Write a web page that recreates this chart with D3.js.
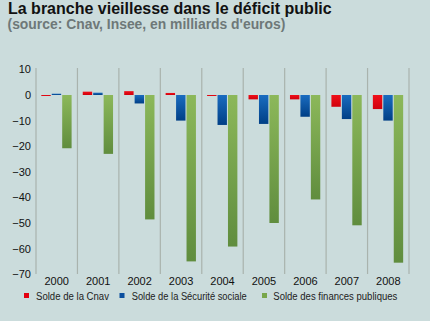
<!DOCTYPE html>
<html><head><meta charset="utf-8">
<script src="https://cdn.jsdelivr.net/npm/d3@7"></script>
<style>
html,body{margin:0;padding:0;background:#cbdcdc;}
svg{display:block;font-family:Arial,"Liberation Sans",sans-serif;}
</style></head>
<body>
<svg id="c" width="430" height="321"></svg>
<script>
const years = ["2000","2001","2002","2003","2004","2005","2006","2007","2008"];
const cnav = [-0.3, 1.3, 1.5, 0.8, -0.2, -1.7, -1.7, -4.6, -5.5];
const secu = [0.5, 0.9, -3.3, -10.0, -11.7, -11.3, -8.5, -9.4, -10.0];
const finances = [-20.8, -23.0, -48.6, -65.0, -59.2, -50.0, -40.8, -50.9, -65.5];
const yTicks = [10, 0, -10, -20, -30, -40, -50, -60, -70];
const seriesNames = ["Solde de la Cnav", "Solde de la Sécurité sociale", "Solde des finances publiques"];

const svg = d3.select("#c");
svg.append("rect").attr("width",430).attr("height",321).attr("fill","#cbdcdc");

const defs = svg.append("defs");
const grads = [
  ["gRed", "#f0101a", "#d0000c"],
  ["gBlue", "#1a6cc0", "#003f86"],
  ["gGreen", "#8cb85a", "#608d3e"]
];
grads.forEach(([id,c1,c2])=>{
  const g = defs.append("linearGradient").attr("id",id).attr("x1",0).attr("y1",0).attr("x2",0).attr("y2",1);
  g.append("stop").attr("offset","0%").attr("stop-color",c1);
  g.append("stop").attr("offset","100%").attr("stop-color",c2);
});
const solid = ["#e3000f","#0b4f9e","#78a64a"];

svg.append("text").attr("x",8).attr("y",14).attr("font-size","16px").attr("font-weight","bold")
  .attr("fill","#111").text("La branche vieillesse dans le déficit public");
svg.append("text").attr("x",7.5).attr("y",28.5).attr("font-size","13.9px").attr("font-weight","bold")
  .attr("fill","#6e7878").text("(source: Cnav, Insee, en milliards d'euros)");

const y = d3.scaleLinear().domain([-70,10]).range([274.2,69.4]);
const x = d3.scaleBand().domain(years).range([36,409]);
const inner = d3.scaleBand().domain([0,1,2]).range([5.3,35.6]).paddingInner(0.1);

// vertical grid lines at band boundaries
const bounds = years.map(d=>x(d)).concat([x.range()[1]]);
svg.append("g").selectAll("line").data(bounds).join("line")
  .attr("x1",d=>d).attr("x2",d=>d).attr("y1",68).attr("y2",274)
  .attr("stroke","#a9b3ad").attr("stroke-width",1.2);

// y axis labels
const yAxis = d3.axisLeft(y).tickValues(yTicks).tickSize(0).tickPadding(0);
const ya = svg.append("g").attr("transform","translate(31,0)").call(yAxis);
ya.select(".domain").remove();
ya.selectAll("text").attr("font-size","11px").attr("fill","#111").attr("font-family","Arial,'Liberation Sans',sans-serif");

// x axis labels
const xAxis = d3.axisBottom(x).tickSize(0).tickPadding(0);
const xa = svg.append("g").attr("transform","translate(0,274.5)").call(xAxis);
xa.select(".domain").remove();
xa.selectAll("text").attr("font-size","11px").attr("fill","#111").attr("dy","0.95em").attr("font-family","Arial,'Liberation Sans',sans-serif");

const series = [cnav, secu, finances];
const fills = ["url(#gRed)","url(#gBlue)","url(#gGreen)"];
series.forEach((vals,si)=>{
  svg.append("g").selectAll("rect").data(vals).join("rect")
    .attr("x",(d,i)=>x(years[i])+inner(si))
    .attr("width",inner.bandwidth())
    .attr("y",d=>y(Math.max(0,d)))
    .attr("height",d=>Math.max(1,Math.abs(y(d)-y(0))))
    .attr("fill",fills[si]);
});

// legend
const legX = [24, 119.5, 262];
const legTextX = [36, 131.7, 273.3];
const legW = [73, 115, 124];
const lg = svg.append("g");
seriesNames.forEach((n,i)=>{
  lg.append("rect").attr("x",legX[i]).attr("y",293).attr("width",5).attr("height",5).attr("fill",solid[i]);
  lg.append("text").attr("x",legTextX[i]).attr("y",299.5).attr("font-size","10px").attr("fill","#222")
    .attr("textLength",legW[i]).attr("lengthAdjust","spacingAndGlyphs").text(n);
});
</script>
</body></html>
